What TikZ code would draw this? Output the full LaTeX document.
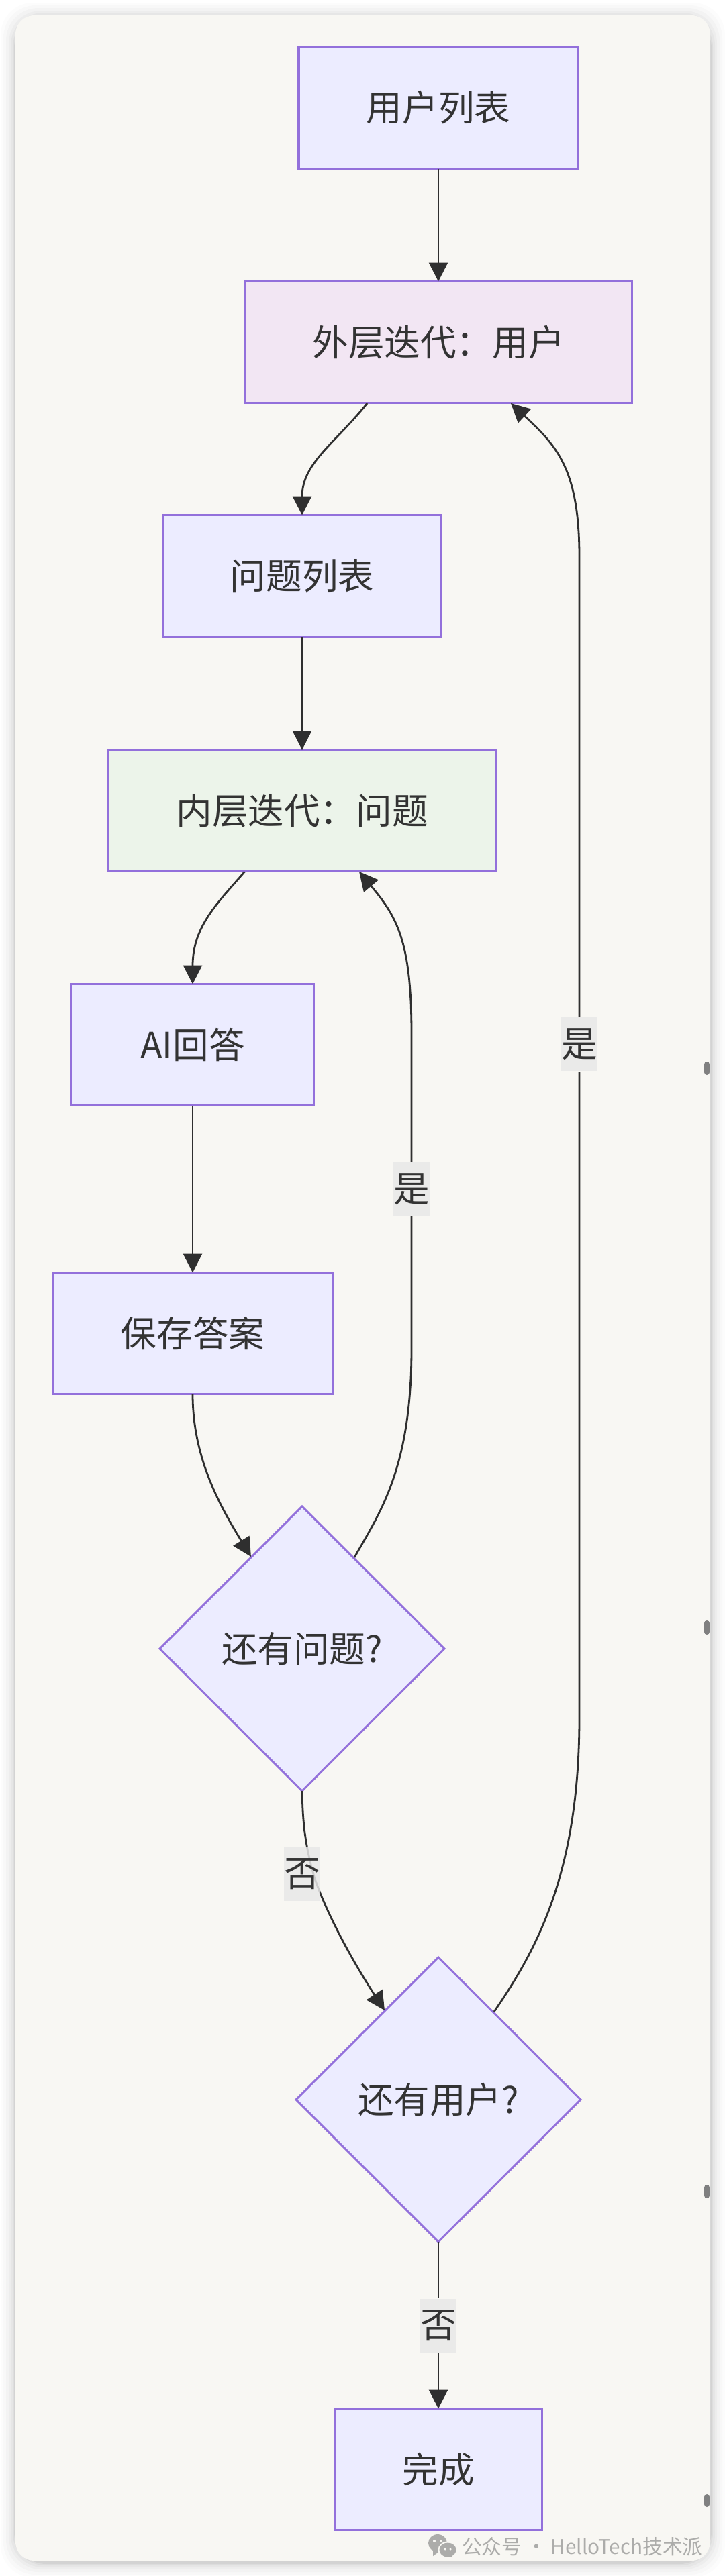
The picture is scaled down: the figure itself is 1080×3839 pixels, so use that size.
\documentclass[tikz,border=0pt]{standalone}
\usepackage{fontspec}
\usetikzlibrary{shapes.geometric,arrows.meta}
\setmainfont{Noto Sans CJK SC}
\definecolor{cardbg}{HTML}{F8F7F3}
\definecolor{nodefill}{HTML}{ECECFF}
\definecolor{nodeline}{HTML}{9370DB}
\definecolor{outerfill}{HTML}{F2E6F3}
\definecolor{innerfill}{HTML}{ECF4EA}
\definecolor{ink}{HTML}{333333}
\definecolor{edgeink}{HTML}{2F2F2F}
\definecolor{labelbg}{HTML}{E8E8E8}
\definecolor{wmgray}{HTML}{ACACAA}
\tikzset{
  x=0.5pt,y=-0.5pt,
  every node/.style={text=ink,font=\fontsize{26.8}{30}\selectfont,inner sep=0pt,outer sep=0pt},
  box/.style={draw=nodeline,line width=1.7pt,fill=nodefill,rectangle,anchor=center},
  decide/.style={draw=nodeline,line width=1.5pt,fill=nodefill,diamond,aspect=1,minimum width=212pt,minimum height=212pt,anchor=center},
  flow/.style={draw=edgeink,line width=1.4pt,-{Triangle[length=14pt,width=14pt]}},
  plainflow/.style={draw=edgeink,line width=1.4pt},
  edgelabel/.style={fill=labelbg,fill opacity=.85,text opacity=1,minimum width=27pt,minimum height=40pt,anchor=center,font=\fontsize{26.8}{30}\selectfont},
}
\begin{document}
\begin{tikzpicture}
\useasboundingbox (0,0) rectangle (1080,3839);
\fill[white] (0,0) rectangle (1080,3839);
\foreach \g/\o in {22/.012,18/.014,14/.018,10/.022,7/.028,4/.035,2/.045}{
  \fill[black,fill opacity=\o,rounded corners=24pt] ({23-\g},{23-\g+3}) rectangle ({1058+\g},{3816+\g+3});
}
\fill[cardbg,rounded corners=14pt] (23,23) rectangle (1058,3816);
\foreach \ya/\yb in {1582/1602,2415/2436,3256/3276,3717/3736}{
  \fill[black!50,rounded corners=2pt] (1049,\ya) rectangle (1057,\yb);
}
\node[box,minimum width=208pt,minimum height=91pt] (users) at (653,160.5) {用户列表};
\node[box,fill=outerfill,minimum width=288.5pt,minimum height=90.5pt] (outer) at (653,510) {外层迭代：用户};
\node[box,minimum width=207.5pt,minimum height=91pt] (qlist) at (450,858.5) {问题列表};
\node[box,fill=innerfill,minimum width=288.5pt,minimum height=90.5pt] (inner) at (450,1208) {内层迭代：问题};
\node[box,minimum width=180.5pt,minimum height=90.5pt] (ai) at (287,1557) {AI回答};
\node[box,minimum width=208.5pt,minimum height=90.5pt] (save) at (287,1987) {保存答案};
\node[decide] (dq) at (450,2457) {还有问题?};
\node[decide] (du) at (653,3129) {还有用户?};
\node[box,minimum width=154.5pt,minimum height=90.5pt] (done) at (653,3680) {完成};
\coordinate (outerOut) at (547,601);
\coordinate (outerIn) at (761,601);
\coordinate (innerOut) at (364.5,1299);
\coordinate (innerIn) at (535,1299);
\coordinate (dqIn) at (374,2320);
\coordinate (dqOut) at (528,2321);
\coordinate (duIn) at (573,2996);
\coordinate (duOut) at (736,2998);
\draw[flow] (users) -- (outer);
\draw[flow] (outerOut) .. controls (500,660) and (450,690) .. (qlist.north);
\draw[flow] (qlist) -- (inner);
\draw[flow] (innerOut) .. controls (325,1345) and (287,1380) .. (ai.north);
\draw[flow] (ai) -- (save);
\draw[flow] (save.south) .. controls (287,2170) and (325,2240) .. (dqIn);
\draw[plainflow] (dqOut) .. controls (565,2255) and (613,2190) .. (613,2010) -- (613,1812);
\draw[flow] (613,1732) -- (613,1540) .. controls (613,1400) and (590,1365) .. (innerIn);
\draw[plainflow] (dq.south) .. controls (451,2700) and (451,2740) .. (469,2800);
\draw[flow] (469,2800) .. controls (490,2860) and (530,2930) .. (duIn);
\draw[plainflow] (duOut) .. controls (800,2905) and (863,2790) .. (863,2560) -- (863,1597);
\draw[flow] (863,1516) -- (863,830) .. controls (863,700) and (830,665) .. (outerIn);
\draw[plainflow] (du.south) -- (653,3425);
\draw[flow] (653,3506) -- (done.north);
\node[edgelabel] (no1) at (450,2793) {否};
\node[edgelabel] (no2) at (653,3466) {否};
\node[edgelabel] (yes1) at (613,1772) {是};
\node[edgelabel] (yes2) at (863,1556) {是};
% watermark
\fill[wmgray] (652,3790) ellipse [x radius=14,y radius=13];
\fill[wmgray] (645,3809) -- (645,3798) -- (655,3802) -- cycle;
\fill[cardbg] (667,3800) ellipse [x radius=14.5,y radius=12.5];
\fill[wmgray] (667,3800) ellipse [x radius=12.5,y radius=10.5];
\fill[wmgray] (674,3811) -- (672,3803) -- (665,3809) -- cycle;
\fill[cardbg] (647,3787) circle (2) (657,3787) circle (2) (663,3799) circle (1.7) (671,3799) circle (1.7);
\node[text=wmgray,anchor=west,font=\fontsize{14.9}{18}\selectfont] (wm) at (688,3795) {公众号 · HelloTech技术派};
\end{tikzpicture}
\end{document}
